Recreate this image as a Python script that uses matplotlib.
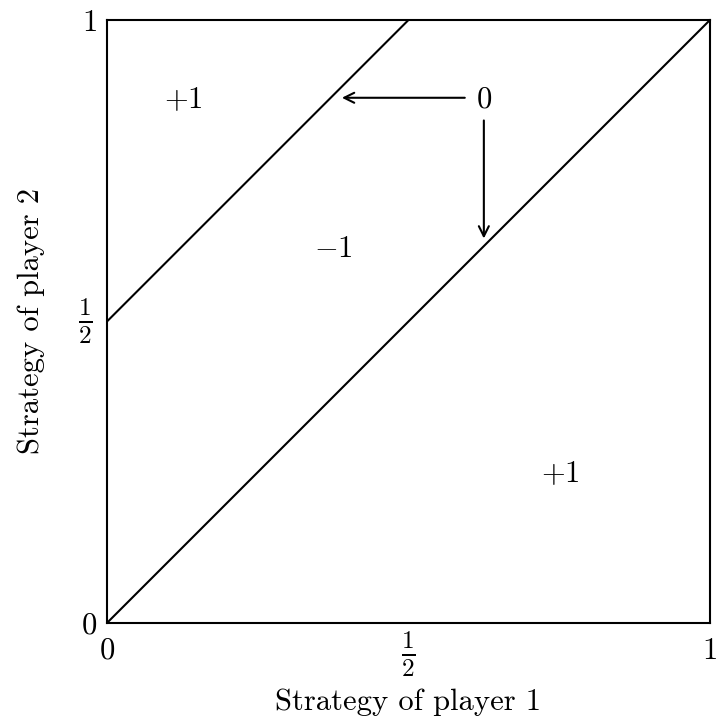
import matplotlib
matplotlib.use("Agg")
from matplotlib import pyplot as plt
from matplotlib.transforms import ScaledTranslation

plt.rcParams['font.family'] = 'serif'
plt.rcParams['font.serif'] = ['cmr10']
plt.rcParams['mathtext.fontset'] = 'cm'
plt.rcParams['axes.unicode_minus'] = False

# boundary lines of the payoff regions
diag_x = [0, 1]
diag_y = [0, 1]
upper_x = [0, 0.5]
upper_y = [0.5, 1]

# payoff labels: (x, y, text)
payoff_x = [0.126, 0.375, 0.751]
payoff_y = [0.867, 0.62, 0.247]
payoff_text = [r'$+1$', r'$-1$', r'$+1$']

zero_pos = (0.625, 0.867)
tick_pos = [0, 0.5, 1]
tick_labels = ['0', r'$\frac{1}{2}$', '1']

FS = 22

fig = plt.figure(figsize=(7.17, 7.27), dpi=100)
ax = fig.add_axes([0.1492, 0.1431, 0.8410, 0.8294])

ax.plot(diag_x, diag_y, color='black', lw=1.5)
ax.plot(upper_x, upper_y, color='black', lw=1.5)

for x, y, t in zip(payoff_x, payoff_y, payoff_text):
    ax.text(x, y, t, ha='center', va='center', fontsize=FS)

ax.text(zero_pos[0], zero_pos[1], r'$0$', ha='center', va='center', fontsize=FS)
arrow = dict(arrowstyle='->', color='black', lw=1.5, mutation_scale=18)
ax.annotate('', xy=(0.385, 0.871), xytext=(0.598, 0.871), arrowprops=arrow)
ax.annotate('', xy=(0.625, 0.633), xytext=(0.625, 0.838), arrowprops=arrow)

ax.set_xlim(0, 1)
ax.set_ylim(0, 1)
ax.set_xticks(tick_pos)
ax.set_xticklabels(tick_labels, fontsize=FS)
ax.set_yticks(tick_pos)
ax.set_yticklabels(tick_labels, fontsize=FS)
ax.tick_params(length=0)
ax.tick_params(axis='x', pad=10.5)
ax.tick_params(axis='y', pad=7)

# the half fractions are set larger and nudged to sit centred on their tick
xhalf = ax.xaxis.get_major_ticks()[1].label1
yhalf = ax.yaxis.get_major_ticks()[1].label1
xhalf.set_fontsize(26)
yhalf.set_fontsize(26)
xhalf.set_transform(xhalf.get_transform()
                    + ScaledTranslation(0, 6 / 72, fig.dpi_scale_trans))
yhalf.set_transform(yhalf.get_transform()
                    + ScaledTranslation(-3 / 72, 6 / 72, fig.dpi_scale_trans))

for s in ax.spines.values():
    s.set_linewidth(1.5)

ax.set_xlabel('Strategy of player 1', fontsize=FS)
ax.set_ylabel('Strategy of player 2', fontsize=FS)
ax.xaxis.set_label_coords(0.5, -0.108)
ax.yaxis.set_label_coords(-0.103, 0.5)

fig.savefig('out.png', dpi=100)
